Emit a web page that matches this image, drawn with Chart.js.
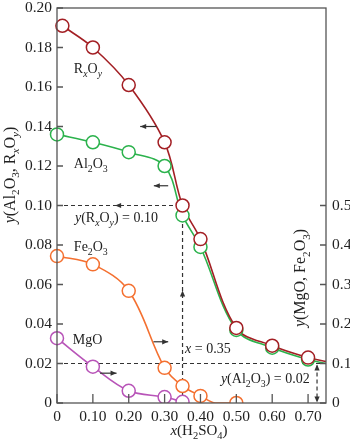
<!DOCTYPE html>
<html>
<head>
<meta charset="utf-8">
<script src="https://cdn.jsdelivr.net/npm/chart.js@4.4.0/dist/chart.umd.min.js"></script>
<style>
  html, body { margin: 0; padding: 0; background: #fff; }
  #wrap { width: 350px; height: 442px; }
</style>
</head>
<body>
<div id="wrap"><canvas id="chart" width="350" height="442"></canvas></div>
<script>
// tick positions
const xTicks = [0, 0.1, 0.2, 0.3, 0.4, 0.5, 0.6, 0.7];
const leftTicks = [0, 0.02, 0.04, 0.06, 0.08, 0.10, 0.12, 0.14, 0.16, 0.18, 0.20];
const rightTicks = [0, 0.1, 0.2, 0.3, 0.4, 0.5];

// R_xO_y and Al2O3, left axis
const rxoyX = [0.015, 0.10, 0.20, 0.30, 0.35, 0.40, 0.50, 0.60, 0.70];
const rxoyY = [0.191, 0.180, 0.161, 0.132, 0.100, 0.083, 0.038, 0.029, 0.023];
const rxoyTailX = [0.75];
const rxoyTailY = [0.021];

const al2o3X = [0, 0.10, 0.20, 0.30, 0.35, 0.40, 0.50, 0.60, 0.70];
const al2o3Y = [0.136, 0.132, 0.127, 0.120, 0.095, 0.079, 0.037, 0.028, 0.022];
const al2o3TailX = [0.75];
const al2o3TailY = [0.020];

// Fe2O3 and MgO, right axis
const fe2o3X = [0, 0.10, 0.20, 0.30, 0.35, 0.40, 0.50];
const fe2o3Y = [0.372, 0.351, 0.284, 0.089, 0.043, 0.018, 0];
const fe2o3TailX = [0.44];
const fe2o3TailY = [0];

const mgoX = [0, 0.10, 0.20, 0.30, 0.35];
const mgoY = [0.164, 0.092, 0.031, 0.015, 0.003];

const FONT = 'Liberation Serif';
const RED = '#a31f24', GREEN = '#2bb24c', ORANGE = '#f47030', PURPLE = '#b854b8';
const INK = '#333';

function points(xs, ys) {
    return xs.map((x, i) => ({ x: x, y: ys[i] }));
}
function curve(xs, ys, tx, ty) {
    return points(xs.concat(tx), ys.concat(ty)).sort((a, b) => a.x - b.x);
}

function markers(data, color, axis) {
    return {
        data: data, yAxisID: axis, showLine: false,
        pointRadius: 6.5, pointHoverRadius: 6.5,
        pointBorderWidth: 1.5, pointBorderColor: color, pointBackgroundColor: '#fff',
        clip: { left: 20, top: 20, right: 20, bottom: 0 }
    };
}
function line(data, color, axis) {
    return {
        data: data, yAxisID: axis, showLine: true, pointRadius: 0,
        borderColor: color, borderWidth: 1.6, tension: 0.35,
        clip: { left: 0, top: 20, right: 0, bottom: 0 }, order: 10
    };
}

// text with italic / subscript pieces
function drawRich(ctx, parts, x, y, size, align) {
    const sub = size * 0.7;
    const fontFor = f => (f.includes('i') ? 'italic ' : '') + (f.includes('s') ? sub : size) + 'px "' + FONT + '"';
    let w = 0;
    parts.forEach(p => { ctx.font = fontFor(p[1]); w += ctx.measureText(p[0]).width; });
    let cx = align === 'center' ? x - w / 2 : x;
    ctx.textAlign = 'left';
    ctx.textBaseline = 'alphabetic';
    parts.forEach(p => {
        ctx.font = fontFor(p[1]);
        ctx.fillText(p[0], cx, y + (p[1].includes('s') ? size * 0.28 : 0));
        cx += ctx.measureText(p[0]).width;
    });
}

function head(ctx, x, y, ang) {
    const len = 6, half = 2.6;
    ctx.save();
    ctx.translate(x, y);
    ctx.rotate(ang);
    ctx.beginPath();
    ctx.moveTo(0, 0);
    ctx.lineTo(-len, -half);
    ctx.lineTo(-len, half);
    ctx.closePath();
    ctx.fill();
    ctx.restore();
}

const overlay = {
    id: 'overlay',
    beforeDatasetsDraw(chart) {
        const c = chart.ctx, sx = chart.scales.x, sy = chart.scales.y;
        const X = v => sx.getPixelForValue(v), Y = v => sy.getPixelForValue(v);
        c.save();
        c.strokeStyle = INK;
        c.fillStyle = INK;
        c.lineWidth = 1.2;
        c.setLineDash([4, 3]);
        c.beginPath();
        c.moveTo(X(0), Y(0.10)); c.lineTo(X(0.35), Y(0.10));
        c.moveTo(X(0.35), Y(0)); c.lineTo(X(0.35), Y(0.092));
        c.moveTo(X(0), Y(0.02)); c.lineTo(X(0.75), Y(0.02));
        c.moveTo(X(0.725), Y(0.019)); c.lineTo(X(0.725), Y(0.001));
        c.stroke();
        c.setLineDash([]);
        head(c, X(0.162), Y(0.10), Math.PI);
        head(c, X(0.35), Y(0.057), -Math.PI / 2);
        head(c, X(0.725), Y(0.0195), -Math.PI / 2);
        head(c, X(0.725), Y(0.0003), Math.PI / 2);
        c.restore();
    },
    afterDatasetsDraw(chart) {
        const c = chart.ctx, a = chart.chartArea;
        const sx = chart.scales.x, sy = chart.scales.y, sy2 = chart.scales.y2;
        const X = v => sx.getPixelForValue(v), Y = v => sy.getPixelForValue(v);
        c.save();
        // frame
        c.strokeStyle = '#555';
        c.lineWidth = 1.3;
        c.strokeRect(a.left, a.top, a.right - a.left, a.bottom - a.top);
        // inward ticks
        c.beginPath();
        xTicks.forEach(v => { c.moveTo(X(v), a.bottom); c.lineTo(X(v), a.bottom - 9); });
        leftTicks.forEach(v => { c.moveTo(a.left, Y(v)); c.lineTo(a.left + 6, Y(v)); });
        rightTicks.forEach(v => { const p = sy2.getPixelForValue(v); c.moveTo(a.right, p); c.lineTo(a.right - 6, p); });
        c.stroke();

        // axis arrows for each curve
        c.strokeStyle = INK;
        c.fillStyle = INK;
        c.lineWidth = 1.2;
        const arrows = [
            [0.278, 0.140, 0.232, 0.140],
            [0.310, 0.110, 0.270, 0.110],
            [0.269, 0.031, 0.310, 0.031],
            [0.120, 0.0151, 0.166, 0.0151]
        ];
        arrows.forEach(r => {
            const x1 = X(r[0]), y1 = Y(r[1]), x2 = X(r[2]), y2 = Y(r[3]);
            c.beginPath(); c.moveTo(x1, y1); c.lineTo(x2, y2); c.stroke();
            head(c, x2, y2, Math.atan2(y2 - y1, x2 - x1));
        });

        // labels
        c.fillStyle = '#222';
        const fs = 14;
        drawRich(c, [['R', ''], ['x', 'si'], ['O', ''], ['y', 'si']], X(0.047), Y(0.167), fs);
        drawRich(c, [['Al', ''], ['2', 's'], ['O', ''], ['3', 's']], X(0.047), Y(0.119), fs);
        drawRich(c, [['y', 'i'], ['(R', ''], ['x', 'si'], ['O', ''], ['y', 'si'], [') = 0.10', '']], X(0.05), Y(0.0918), fs);
        drawRich(c, [['Fe', ''], ['2', 's'], ['O', ''], ['3', 's']], X(0.047), Y(0.0768), fs);
        drawRich(c, [['MgO', '']], X(0.044), Y(0.0299), fs);
        drawRich(c, [['x', 'i'], [' = 0.35', '']], X(0.357), Y(0.0254), fs);
        drawRich(c, [['y', 'i'], ['(Al', ''], ['2', 's'], ['O', ''], ['3', 's'], [') = 0.02', '']], X(0.457), Y(0.010), fs);

        // axis titles
        c.save();
        c.translate(15, 175);
        c.rotate(-Math.PI / 2);
        drawRich(c, [['y', 'i'], ['(Al', ''], ['2', 's'], ['O', ''], ['3', 's'], [', R', ''], ['x', 'si'], ['O', ''], ['y', 'si'], [')', '']], 0, 0, 16, 'center');
        c.restore();
        c.save();
        c.translate(X(0.692), Y(0.0633));
        c.rotate(-Math.PI / 2);
        drawRich(c, [['y', 'i'], ['(MgO, Fe', ''], ['2', 's'], ['O', ''], ['3', 's'], [')', '']], 0, 0, 16, 'center');
        c.restore();
        drawRich(c, [['x', 'i'], ['(H', ''], ['2', 's'], ['SO', ''], ['4', 's'], [')', '']], 199, 435, 15, 'center');
        c.restore();
    }
};

function fixedTicks(list) {
    return scale => { scale.ticks = list.map(v => ({ value: v })); };
}
const tickFont = { family: FONT, size: 15.5 };

new Chart(document.getElementById('chart').getContext('2d'), {
    type: 'scatter',
    data: {
        datasets: [
            markers(points(rxoyX, rxoyY), RED, 'y'),
            markers(points(al2o3X, al2o3Y), GREEN, 'y'),
            markers(points(fe2o3X, fe2o3Y), ORANGE, 'y2'),
            markers(points(mgoX, mgoY), PURPLE, 'y2'),
            line(curve(rxoyX, rxoyY, rxoyTailX, rxoyTailY), RED, 'y'),
            line(curve(al2o3X, al2o3Y, al2o3TailX, al2o3TailY), GREEN, 'y'),
            line(curve(fe2o3X, fe2o3Y, fe2o3TailX, fe2o3TailY), ORANGE, 'y2'),
            line(curve(mgoX, mgoY, [], []), PURPLE, 'y2')
        ]
    },
    options: {
        responsive: false,
        animation: false,
        events: [],
        layout: { padding: { top: 3, left: 0, right: 0, bottom: 0 } },
        plugins: { legend: { display: false }, tooltip: { enabled: false } },
        scales: {
            x: {
                type: 'linear', position: 'bottom', min: 0, max: 0.75,
                grid: { display: false, drawTicks: false }, border: { display: false },
                ticks: { font: tickFont, color: '#222', padding: 5, autoSkip: false, maxRotation: 0,
                    callback: v => v === 0 ? '0' : v.toFixed(2) },
                afterBuildTicks: fixedTicks(xTicks),
                afterFit: s => { s.height = 39; s.paddingLeft = 0; s.paddingRight = 0; }
            },
            y: {
                type: 'linear', position: 'left', min: 0, max: 0.2,
                grid: { display: false, drawTicks: false }, border: { display: false },
                ticks: { font: tickFont, color: '#222', padding: 5, autoSkip: false,
                    callback: v => v === 0 ? '0' : v.toFixed(2) },
                afterBuildTicks: fixedTicks(leftTicks),
                afterFit: s => { s.width = 57; s.paddingTop = 0; s.paddingBottom = 0; }
            },
            y2: {
                type: 'linear', position: 'right', min: 0, max: 1.0,
                grid: { display: false, drawTicks: false }, border: { display: false },
                ticks: { font: tickFont, color: '#222', padding: 6, autoSkip: false,
                    callback: v => v === 0 ? '0' : v.toFixed(1) },
                afterBuildTicks: fixedTicks(rightTicks),
                afterFit: s => { s.width = 24; s.paddingTop = 0; s.paddingBottom = 0; }
            }
        }
    },
    plugins: [overlay]
});
</script>
</body>
</html>
